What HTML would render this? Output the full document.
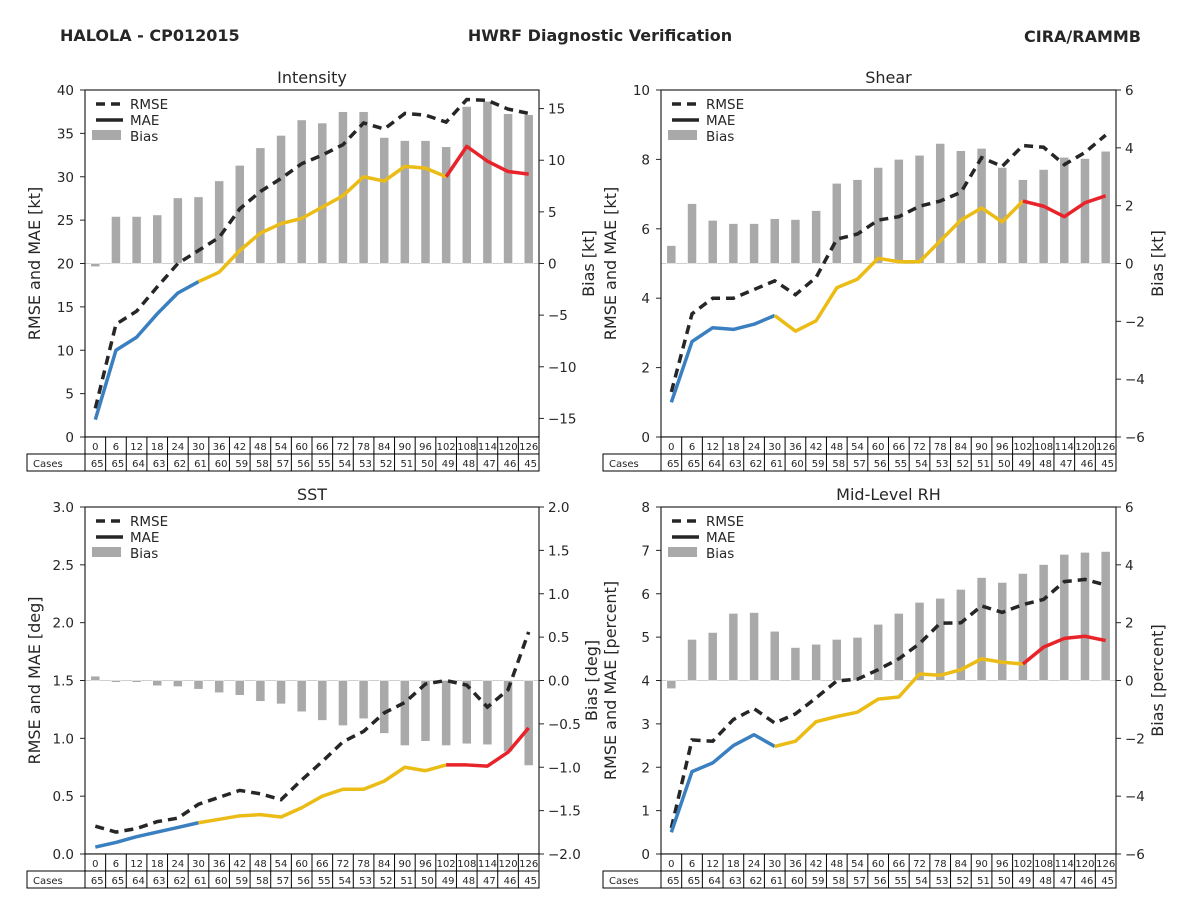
<!DOCTYPE html>
<html><head><meta charset="utf-8">
<style>
body{margin:0;background:#fff;width:1200px;height:900px;overflow:hidden;font-family:"Liberation Sans","DejaVu Sans",sans-serif}
svg text{font-family:"DejaVu Sans","Liberation Sans",sans-serif;fill:#262626}
</style></head><body>
<svg id="s" width="1200" height="900" xmlns="http://www.w3.org/2000/svg">
<text x="60" y="41" font-size="16" font-weight="bold">HALOLA - CP012015</text>
<text x="600" y="41" font-size="16" font-weight="bold" text-anchor="middle">HWRF Diagnostic Verification</text>
<text x="1141" y="42" font-size="16" font-weight="bold" text-anchor="end">CIRA/RAMMB</text>
</svg>
<script>
const leadHours=[0,6,12,18,24,30,36,42,48,54,60,66,72,78,84,90,96,102,108,114,120,126];
const cases=[65,65,64,63,62,61,60,59,58,57,56,55,54,53,52,51,50,49,48,47,46,45];
const intRmse=[3.3,13,14.5,17.3,20,21.5,23,26.3,28.3,29.8,31.5,32.5,33.7,36.2,35.5,37.3,37.1,36.3,38.9,38.8,37.8,37.3];
const intMae=[2,10,11.5,14.2,16.6,17.9,19,21.5,23.5,24.6,25.2,26.5,27.8,30,29.5,31.2,31,30,33.5,31.8,30.6,30.3];
const intBias=[-0.3,4.55,4.55,4.7,6.35,6.45,8.0,9.5,11.2,12.4,13.9,13.6,14.7,14.7,12.2,11.9,11.9,11.3,15.2,15.7,14.5,14.4];
const shrRmse=[1.3,3.55,4.0,4.0,4.25,4.5,4.1,4.6,5.7,5.85,6.25,6.35,6.65,6.8,7.05,8.05,7.8,8.4,8.35,7.85,8.2,8.7];
const shrMae=[1.0,2.75,3.15,3.1,3.25,3.5,3.05,3.35,4.3,4.55,5.15,5.05,5.05,5.65,6.25,6.6,6.2,6.8,6.65,6.35,6.75,6.95];
const shrBias=[0.62,2.07,1.49,1.38,1.38,1.55,1.52,1.83,2.77,2.9,3.32,3.6,3.74,4.15,3.9,3.98,3.32,2.9,3.25,3.67,3.63,3.88];
const sstRmse=[0.24,0.19,0.22,0.28,0.31,0.43,0.49,0.55,0.52,0.47,0.64,0.8,0.97,1.06,1.22,1.31,1.47,1.5,1.46,1.27,1.42,1.92];
const sstMae=[0.06,0.1,0.15,0.19,0.23,0.27,0.3,0.33,0.34,0.32,0.4,0.5,0.56,0.56,0.63,0.75,0.72,0.77,0.77,0.76,0.88,1.09];
const sstBias=[0.05,-0.02,-0.02,-0.06,-0.07,-0.1,-0.14,-0.17,-0.24,-0.27,-0.36,-0.46,-0.52,-0.44,-0.61,-0.75,-0.70,-0.75,-0.73,-0.74,-0.82,-0.98];
const rhRmse=[0.6,2.63,2.6,3.1,3.35,3.02,3.23,3.6,3.99,4.03,4.25,4.5,4.85,5.32,5.33,5.72,5.57,5.75,5.87,6.28,6.33,6.2];
const rhMae=[0.5,1.9,2.1,2.5,2.75,2.48,2.6,3.05,3.17,3.27,3.57,3.62,4.15,4.12,4.25,4.5,4.42,4.38,4.77,4.97,5.02,4.92];
const rhBias=[-0.28,1.42,1.66,2.32,2.35,1.7,1.14,1.25,1.42,1.49,1.94,2.32,2.7,2.84,3.15,3.56,3.39,3.7,4.01,4.36,4.43,4.46];
const intLeftTicks=[0,5,10,15,20,25,30,35,40];
const intRightTicks=[-15,-10,-5,0,5,10,15];
const shrLeftTicks=[0,2,4,6,8,10];
const shrRightTicks=[-6,-4,-2,0,2,4,6];
const sstLeftTicks=[0.0,0.5,1.0,1.5,2.0,2.5,3.0];
const sstRightTicks=[-2.0,-1.5,-1.0,-0.5,0.0,0.5,1.0,1.5,2.0];
const rhLeftTicks=[0,1,2,3,4,5,6,7,8];
const rhRightTicks=[-6,-4,-2,0,2,4,6];

const NS='http://www.w3.org/2000/svg';
const svg=document.getElementById('s');
function mk(tag,attrs,parent){const e=document.createElementNS(NS,tag);for(const k in attrs)e.setAttribute(k,attrs[k]);(parent||svg).appendChild(e);return e;}

function panel(o){
  const g=mk('g',{});
  
  
  const x0=o.x0,x1=o.x1,y0=o.y0,y1=o.y1;
  const n=leadHours.length,cw=(x1-x0)/n;
  const xs=i=>x0+(i+0.5)*cw;
  const yl=v=>y1-(v-o.lmin)/(o.lmax-o.lmin)*(y1-y0);
  const yr=v=>y1-(v-o.rmin)/(o.rmax-o.rmin)*(y1-y0);
  const zl=mk('line',{x1:x0,x2:x1,y1:yr(0),y2:yr(0),stroke:'#cfcfcf','stroke-width':1},g);
  
  
  o.bias.forEach((b,i)=>{
    const y=Math.min(yr(b),yr(0)),h=Math.abs(yr(b)-yr(0));
    const r=mk('rect',{x:xs(i)-4.5,y:y,width:9,height:Math.max(h,1.5),fill:'#a9a9a9',stroke:'#fff','stroke-width':0.5},g);
    
    
  });
  const rp=o.rmse.map((v,i)=>xs(i)+','+yl(v)).join(' ');
  const rl=mk('polyline',{points:rp,fill:'none',stroke:'#262626','stroke-width':3.5,'stroke-dasharray':'9,6'},g);
  
  
  const segs=[[0,5,'#3a7fc0'],[5,17,'#ecbc16'],[17,21,'#e8232a']];
  segs.forEach(s=>{
    const pts=[];for(let i=s[0];i<=s[1];i++)pts.push(xs(i)+','+yl(o.mae[i]));
    const l=mk('polyline',{points:pts.join(' '),fill:'none',stroke:s[2],'stroke-width':3.5,'stroke-linejoin':'round'},g);
    
    
  });
  const fr=mk('rect',{x:x0,y:y0,width:x1-x0,height:y1-y0,fill:'none',stroke:'#262626','stroke-width':1.2},g);
  
  
  o.lt.forEach(t=>{
    mk('line',{x1:x0-5,x2:x0,y1:yl(t),y2:yl(t),stroke:'#262626'},g);
    const tx=mk('text',{x:x0-11,y:yl(t)+5,'font-size':13.5,'text-anchor':'end'},g);
    tx.textContent=o.fmtL(t);
    
    
  });
  o.rt.forEach(t=>{
    mk('line',{x1:x1,x2:x1+5,y1:yr(t),y2:yr(t),stroke:'#262626'},g);
    const tx=mk('text',{x:x1+9,y:yr(t)+5,'font-size':13.5},g);
    tx.textContent=o.fmtR(t);
    
    
  });
  const ti=mk('text',{x:(x0+x1)/2,y:y0-7,'font-size':16,'text-anchor':'middle'},g);
  ti.textContent=o.title;
  
  
  const ly=(y0+y1)/2;
  const lx=x0-45;
  const la=mk('text',{x:lx,y:ly,'font-size':16,'text-anchor':'middle',transform:`rotate(-90 ${lx} ${ly})`},g);
  la.textContent=o.ll;
  
  
  const rx=x1+o.rlOff;
  const ra=mk('text',{x:rx,y:ly,'font-size':16,'text-anchor':'middle',transform:`rotate(-90 ${rx} ${ly})`},g);
  ra.textContent=o.rl;
  
  
  const lg=mk('g',{},g);
  
  
  mk('line',{x1:x0+11,x2:x0+38,y1:y0+14,y2:y0+14,stroke:'#262626','stroke-width':3.5,'stroke-dasharray':'9,6'},lg);
  mk('line',{x1:x0+11,x2:x0+38,y1:y0+30,y2:y0+30,stroke:'#262626','stroke-width':3.5},lg);
  mk('rect',{x:x0+7,y:y0+40,width:29,height:10,fill:'#a9a9a9'},lg);
  [['RMSE',y0+19],['MAE',y0+35],['Bias',y0+51]].forEach(a=>{
    const t=mk('text',{x:x0+45,y:a[1],'font-size':13.5},lg);t.textContent=a[0];
    
    
  });
  const tb=mk('g',{},g);
  
  
  mk('rect',{x:x0,y:y1,width:x1-x0,height:17,fill:'#fff',stroke:'#000','stroke-width':1},tb);
  mk('rect',{x:x0-58,y:y1+17,width:x1-x0+58,height:17,fill:'#fff',stroke:'#000','stroke-width':1},tb);
  mk('line',{x1:x0,x2:x0,y1:y1+17,y2:y1+34,stroke:'#000'},tb);
  const cl=mk('text',{x:x0-52,y:y1+30,'font-size':10},tb);cl.textContent='Cases';
  leadHours.forEach((h,i)=>{
    if(i>0){mk('line',{x1:x0+i*cw,x2:x0+i*cw,y1:y1,y2:y1+34,stroke:'#000'},tb);}
    const t=mk('text',{x:xs(i),y:y1+13,'font-size':10,'text-anchor':'middle'},tb);t.textContent=h;
    
    
    const c=mk('text',{x:x0+(i+1)*cw-2,y:y1+30,'font-size':10,'text-anchor':'end'},tb);c.textContent=cases[i];
    
    
  });
}
const i0=v=>String(v), f1=v=>v.toFixed(1), neg=v=>(v<0?'\u2212'+String(Math.abs(v)):String(v)), negf=v=>(v<0?'\u2212'+Math.abs(v).toFixed(1):v.toFixed(1));
panel({name:'intensity',title:'Intensity',x0:85,x1:539,y0:90,y1:437,lmin:0,lmax:40,rmin:-16.8,rmax:16.8,rmse:intRmse,mae:intMae,bias:intBias,lt:intLeftTicks,rt:intRightTicks,fmtL:i0,fmtR:neg,ll:'RMSE and MAE [kt]',rl:'Bias [kt]',rlOff:55});
panel({name:'shear',title:'Shear',x0:661,x1:1116,y0:90,y1:437,lmin:0,lmax:10,rmin:-6,rmax:6,rmse:shrRmse,mae:shrMae,bias:shrBias,lt:shrLeftTicks,rt:shrRightTicks,fmtL:i0,fmtR:neg,ll:'RMSE and MAE [kt]',rl:'Bias [kt]',rlOff:47});
panel({name:'sst',title:'SST',x0:85,x1:539,y0:507,y1:854,lmin:0,lmax:3,rmin:-2,rmax:2,rmse:sstRmse,mae:sstMae,bias:sstBias,lt:sstLeftTicks,rt:sstRightTicks,fmtL:f1,fmtR:negf,ll:'RMSE and MAE [deg]',rl:'Bias [deg]',rlOff:58});
panel({name:'mid-level-rh',title:'Mid-Level RH',x0:661,x1:1116,y0:507,y1:854,lmin:0,lmax:8,rmin:-6,rmax:6,rmse:rhRmse,mae:rhMae,bias:rhBias,lt:rhLeftTicks,rt:rhRightTicks,fmtL:i0,fmtR:neg,ll:'RMSE and MAE [percent]',rl:'Bias [percent]',rlOff:47});
</script>
</body></html>
